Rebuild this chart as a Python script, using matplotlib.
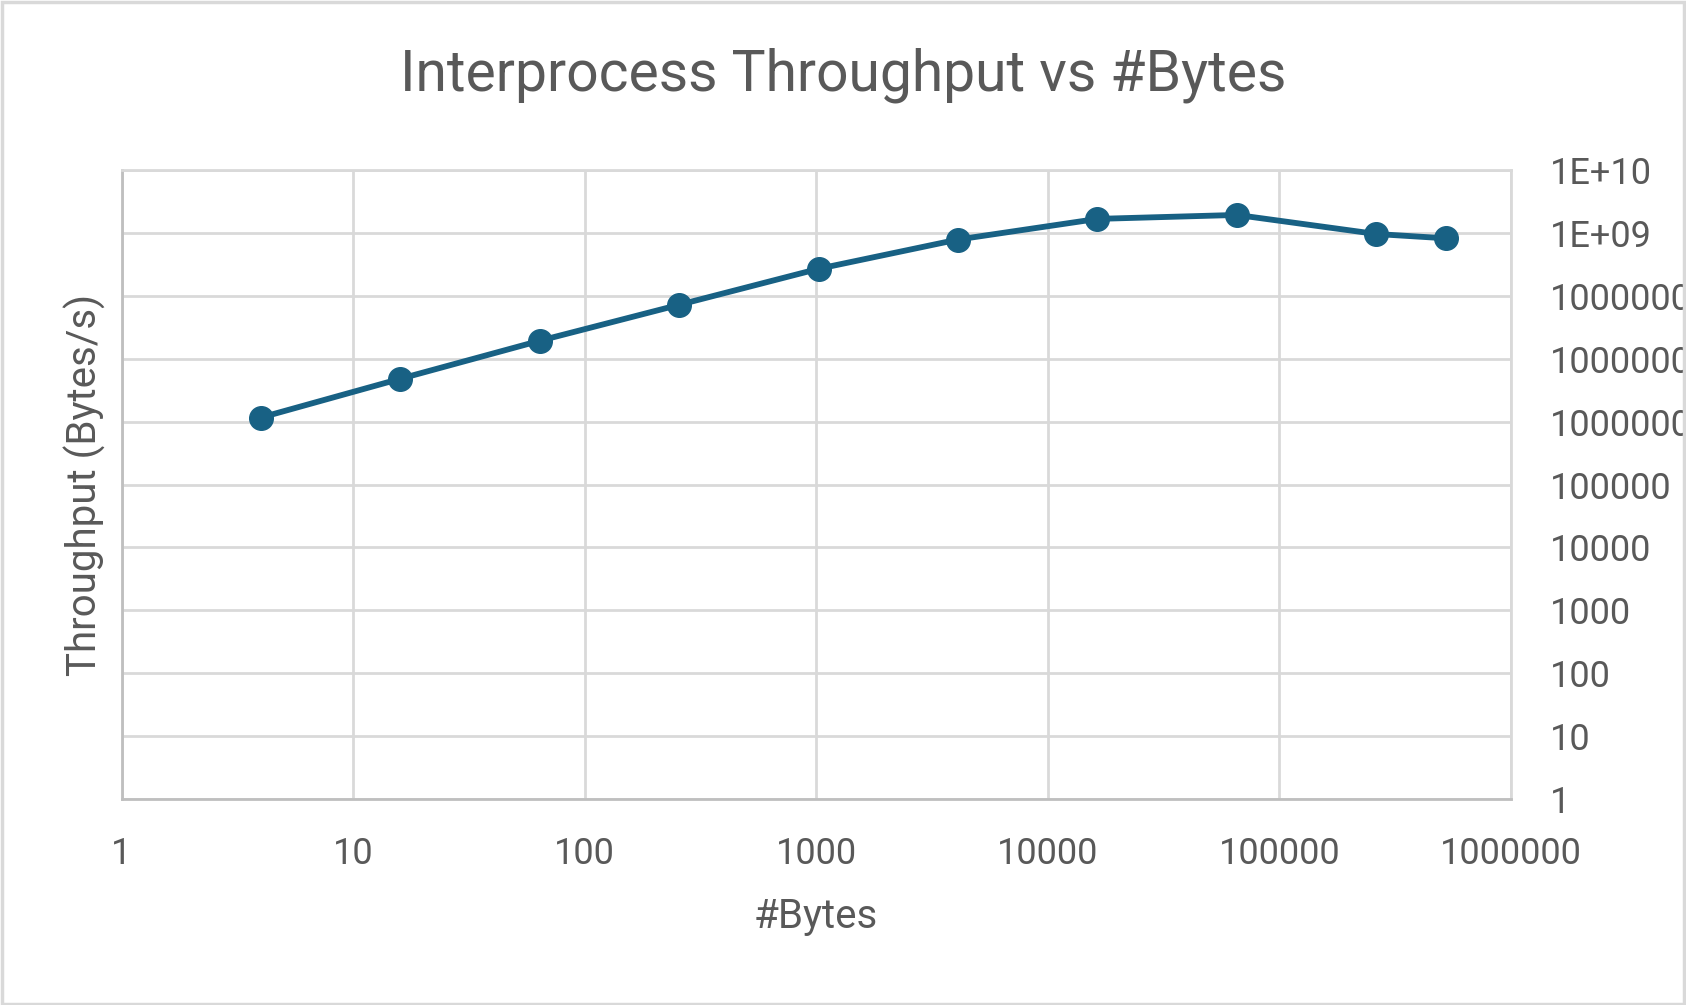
import matplotlib.pyplot as plt
from matplotlib.patches import Rectangle
from matplotlib.ticker import FixedLocator, FixedFormatter, NullLocator

# data
n_bytes = [4, 16, 64, 256, 1024, 4096, 16384, 65536, 262144, 524288]
throughput = [1.16e6, 4.8e6, 1.93e7, 7.2e7, 2.69e8, 7.85e8, 1.67e9, 1.93e9, 9.6e8, 8.2e8]

x_ticks = [1, 10, 100, 1000, 10000, 100000, 1000000]
x_labels = ['1', '10', '100', '1000', '10000', '100000', '1000000']
y_ticks = [1, 10, 100, 1000, 1e4, 1e5, 1e6, 1e7, 1e8, 1e9, 1e10]
y_labels = ['1', '10', '100', '1000', '10000', '100000', '1000000',
            '10000000', '100000000', '1E+09', '1E+10']

txt = '#595959'
grid_c = '#d9d9d9'
line_c = '#186184'

plt.rcParams['font.family'] = ['Roboto', 'DejaVu Sans']

fig = plt.figure(figsize=(16.86, 10.05), dpi=100)
fig.patches.append(Rectangle((0.001, 0.001), 0.998, 0.997, transform=fig.transFigure,
                             fill=False, edgecolor=grid_c, linewidth=2.5))

ax = fig.add_axes([121.5 / 1686, 1 - 799 / 1005, (1511 - 121.5) / 1686, (799 - 170) / 1005])
ax.set_xscale('log')
ax.set_yscale('log')
ax.set_xlim(1, 1e6)
ax.set_ylim(1, 1e10)

ax.plot(n_bytes, throughput, color=line_c, linewidth=4.2, marker='o',
        markersize=17, zorder=3, clip_on=False)

ax.xaxis.set_major_locator(FixedLocator(x_ticks))
ax.xaxis.set_major_formatter(FixedFormatter(x_labels))
ax.xaxis.set_minor_locator(NullLocator())
ax.yaxis.set_major_locator(FixedLocator(y_ticks))
ax.yaxis.set_major_formatter(FixedFormatter(y_labels))
ax.yaxis.set_minor_locator(NullLocator())

ax.yaxis.tick_right()
ax.tick_params(axis='both', length=0, labelsize=26, labelcolor=txt)
ax.tick_params(axis='x', pad=27)
ax.tick_params(axis='y', pad=28)
for lab in ax.get_yticklabels():
    lab.set_horizontalalignment('left')

ax.grid(True, color=grid_c, linewidth=2)
ax.set_axisbelow(True)
for side in ['top', 'right']:
    ax.spines[side].set_color(grid_c)
    ax.spines[side].set_linewidth(2)
for side in ['left', 'bottom']:
    ax.spines[side].set_color('#bfbfbf')
    ax.spines[side].set_linewidth(2)

ax.set_xlabel('#Bytes', fontsize=29, color=txt, labelpad=18)
ax.set_ylabel('Throughput (Bytes/s)', fontsize=29, color=txt, labelpad=11)
ax.yaxis.set_label_position('left')

fig.text(0.5, 1 - 75 / 1005, 'Interprocess Throughput vs #Bytes', ha='center',
         va='center', fontsize=41, color=txt)

fig.savefig('out.png', dpi=100)
